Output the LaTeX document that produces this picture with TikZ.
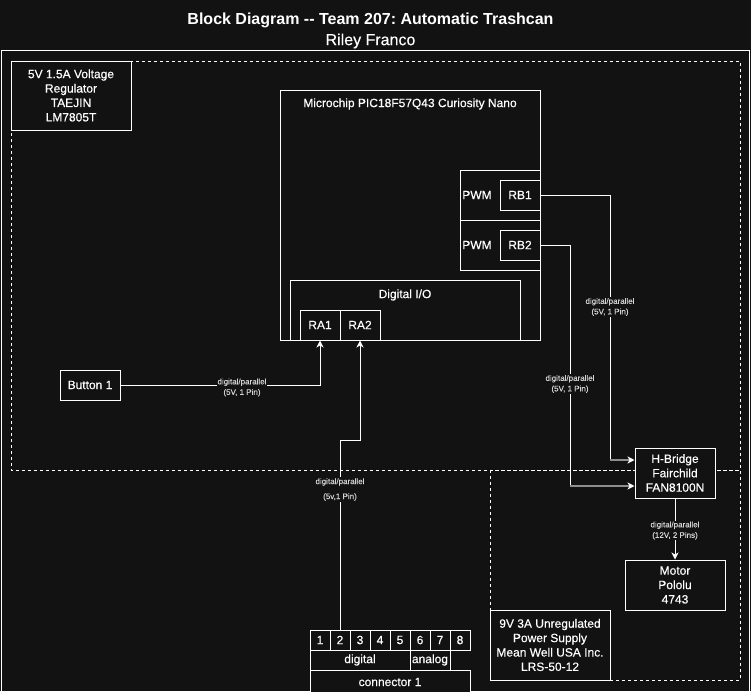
\documentclass[tikz,border=0pt]{standalone}
\usepackage{fontspec}
\setmainfont{Liberation Sans}
\newfontfamily\lfont{Liberation Sans}[FakeBold=0.35]
\usetikzlibrary{arrows.meta}
\definecolor{bg}{HTML}{121212}
\definecolor{lbl}{HTML}{D4D4D4}
\definecolor{seg}{HTML}{8E8E8E}
\frenchspacing
\begin{document}
\begin{tikzpicture}[x=1pt,y=-1pt,
  every node/.style={text=white},
  blk/.style={draw=white, fill=bg, line width=1pt, inner sep=0pt, align=center, font=\lfont\fontsize{12}{14.4}\selectfont},
  txt/.style={inner sep=0pt, align=center, font=\lfont\fontsize{12}{14.4}\selectfont},
  lab/.style={fill=bg, text=lbl, inner sep=1pt, align=center, font=\lfont\fontsize{8}{10.5}\selectfont},
  wire/.style={draw=white, line width=1pt},
  arr/.style={-{Stealth[length=7pt,width=7pt,inset=2pt]}},
  grayseg/.style={draw=seg, line width=2pt, -{Stealth[length=7pt,width=7pt,inset=2pt,color=white]}},
  zone/.style={draw=white, line width=1pt, dash pattern=on 3pt off 3pt}]
\path[use as bounding box, fill=bg] (0,0) rectangle (751,691);
% title
\node[inner sep=0pt, font=\bfseries\fontsize{16}{19}\selectfont] (title) at (370.5,20) {Block Diagram -\kern0pt- Team 207: Automatic Trashcan};
\node[inner sep=0pt, font=\lfont\fontsize{16}{19}\selectfont] (author) at (370.5,41) {Riley Franco};
% frames
\draw[draw=white, line width=1pt] (1,50) rectangle (749,720);
\draw[zone] (11,61) rectangle (740,470);
\draw[zone] (490,470) rectangle (740,680);
% blocks
\node[blk, minimum width=120pt, minimum height=69pt] (reg) at (71,95.5) {5V 1.5A Voltage\\Regulator\\TAEJIN\\LM7805T};
\node[blk, minimum width=260pt, minimum height=250pt] (mcu) at (410,215) {};
\node[txt] (mcut) at (410,104) {Microchip PIC18F57Q43 Curiosity Nano};
\node[blk, minimum width=80pt, minimum height=50pt] (pwm1) at (500,195) {};
\node[txt] (pwm1t) at (477,195) {PWM};
\node[blk, minimum width=40pt, minimum height=30pt] (rb1) at (520,195) {RB1};
\node[blk, minimum width=80pt, minimum height=50pt] (pwm2) at (500,245) {};
\node[txt] (pwm2t) at (477,245) {PWM};
\node[blk, minimum width=40pt, minimum height=30pt] (rb2) at (520,245) {RB2};
\node[blk, minimum width=230pt, minimum height=60pt] (dio) at (405,310) {};
\node[txt] (diot) at (405,295) {Digital I/O};
\node[blk, minimum width=40pt, minimum height=30pt] (ra1) at (320,325) {RA1};
\node[blk, minimum width=40pt, minimum height=30pt] (ra2) at (360,325) {RA2};
\node[blk, minimum width=60pt, minimum height=30pt] (btn) at (90,385) {Button 1};
\node[blk, minimum width=80pt, minimum height=50pt] (hb) at (675,473) {H-Bridge\\Fairchild\\FAN8100N};
\node[blk, minimum width=100pt, minimum height=50pt] (motor) at (675,585) {Motor\\Pololu\\4743};
\node[blk, minimum width=120pt, minimum height=70pt] (psu) at (550,645) {9V 3A Unregulated\\Power Supply\\Mean Well USA Inc.\\LRS-50-12};
% connector
\foreach \i in {1,...,8}
  \node[blk, minimum width=20pt, minimum height=20pt] (p\i) at ({300+20*\i},640) {\i};
\node[blk, minimum width=100pt, minimum height=20pt] (dig) at (360,660) {digital};
\node[blk, minimum width=40pt, minimum height=20pt] (ana) at (430,660) {analog};
\node[blk, minimum width=160pt, minimum height=24pt] (conn) at (390,682) {connector 1};
% wires
\coordinate (c1) at (320,385);
\draw[wire,arr] (btn.east) -- (c1) -- (ra1.south);
\node[lab] (l1) at (242,387.5) {digital/parallel\\(5V, 1 Pin)};
\coordinate (c2a) at (340,440);
\coordinate (c2b) at (360,440);
\draw[wire,arr] (p2.north) -- (c2a) -- (c2b) -- (ra2.south);
\node[lab, font=\lfont\fontsize{8}{15}\selectfont] (l2) at (340,489.5) {digital/parallel\\(5v,1 Pin)};
\coordinate (c3a) at (610,195);
\coordinate (c3b) at (610,460);
\draw[wire] (rb1.east) -- (c3a) -- (c3b);
\draw[grayseg] (c3b) -- (hb.west |- c3b);
\node[lab] (l3) at (610,307) {digital/parallel\\(5V, 1 Pin)};
\coordinate (c4a) at (570,245);
\coordinate (c4b) at (570,486);
\draw[wire] (rb2.east) -- (c4a) -- (c4b);
\draw[grayseg] (c4b) -- (hb.west |- c4b);
\node[lab] (l4) at (570,384) {digital/parallel\\(5V, 1 Pin)};
\draw[wire,arr] (hb.south) -- (motor.north);
\node[lab] (l5) at (675,530.5) {digital/parallel\\(12V, 2 Pins)};
\end{tikzpicture}
\end{document}
